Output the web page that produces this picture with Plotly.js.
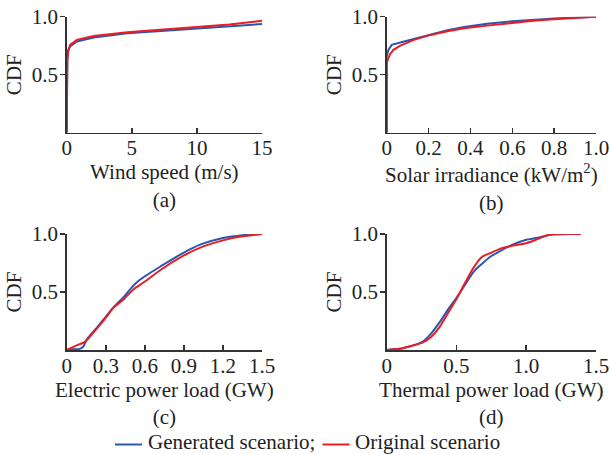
<!DOCTYPE html>
<html>
<head>
<meta charset="utf-8">
<script src="https://cdn.plot.ly/plotly-3.0.1.min.js"></script>
<style>html,body{margin:0;padding:0;background:#fff;}#chart{width:610px;height:454px;}</style>
</head>
<body>
<div id="chart"></div>
<script>
// ---- Data ----
const windGenX  = [0, 0, 0.05, 0.26, 0.78, 2.07, 4.66, 7.25, 10, 12.5, 15];
const windGenY  = [0, 0.68, 0.70, 0.743, 0.786, 0.82, 0.857, 0.877, 0.9, 0.918, 0.937];
const windOrigX = [0, 0, 0.05, 0.12, 0.26, 0.78, 2.07, 4.66, 7.25, 10, 12.5, 15];
const windOrigY = [0, 0.5, 0.62, 0.7, 0.757, 0.8, 0.834, 0.866, 0.889, 0.908, 0.932, 0.965];

const solarGenX  = [0, 0, 0.008, 0.024, 0.065, 0.13, 0.21, 0.29, 0.37, 0.48, 0.6, 0.7, 0.8, 0.9, 1.0];
const solarGenY  = [0, 0.66, 0.714, 0.757, 0.777, 0.809, 0.849, 0.883, 0.911, 0.94, 0.96, 0.974, 0.985, 0.994, 1.0];
const solarOrigX = [0, 0, 0.008, 0.016, 0.032, 0.065, 0.13, 0.21, 0.29, 0.37, 0.48, 0.6, 0.7, 0.8, 0.9, 1.0];
const solarOrigY = [0, 0.6, 0.643, 0.677, 0.714, 0.751, 0.8, 0.843, 0.874, 0.9, 0.923, 0.95, 0.966, 0.978, 0.99, 1.0];

const elecGenX  = [0, 0.05, 0.1, 0.128, 0.154, 0.19, 0.23, 0.295, 0.36, 0.44, 0.5, 0.55, 0.6, 0.72, 0.9, 1.03, 1.2, 1.35, 1.5];
const elecGenY  = [0, 0.006, 0.01, 0.03, 0.09, 0.14, 0.19, 0.28, 0.37, 0.46, 0.54, 0.595, 0.635, 0.72, 0.84, 0.91, 0.965, 0.99, 1.0];
const elecOrigX = [0, 0.077, 0.14, 0.205, 0.295, 0.36, 0.44, 0.51, 0.6, 0.72, 0.9, 1.03, 1.2, 1.35, 1.5];
const elecOrigY = [0, 0.04, 0.07, 0.15, 0.27, 0.365, 0.44, 0.52, 0.59, 0.69, 0.815, 0.885, 0.945, 0.98, 1.0];

const thermGenX  = [0, 0.095, 0.19, 0.25, 0.31, 0.38, 0.44, 0.5, 0.56, 0.62, 0.68, 0.75, 0.83, 0.905, 1.0, 1.07, 1.19, 1.39];
const thermGenY  = [0, 0.01, 0.04, 0.065, 0.13, 0.24, 0.35, 0.45, 0.56, 0.67, 0.74, 0.81, 0.865, 0.91, 0.95, 0.965, 0.995, 1.0];
const thermOrigX = [0, 0.095, 0.19, 0.26, 0.32, 0.38, 0.44, 0.5, 0.56, 0.62, 0.68, 0.75, 0.83, 0.905, 1.0, 1.07, 1.17, 1.39];
const thermOrigY = [0, 0.01, 0.04, 0.065, 0.115, 0.2, 0.32, 0.44, 0.575, 0.705, 0.8, 0.84, 0.88, 0.9, 0.92, 0.95, 0.995, 1.0];

const seriesNames = ["Generated scenario;", "Original scenario"];
const xTitles = ["Wind speed (m/s)", "Solar irradiance (kW/m<sup>2</sup>)", "Electric power load (GW)", "Thermal power load (GW)"];
const panelLabels = ["(a)", "(b)", "(c)", "(d)"];
const xTickVals = [[0, 5, 10, 15], [0, 0.2, 0.4, 0.6, 0.8, 1.0], [0, 0.3, 0.6, 0.9, 1.2, 1.5], [0, 0.5, 1.0, 1.5]];
const xTickText = [["0", "5", "10", "15"], ["0", "0.2", "0.4", "0.6", "0.8", "1.0"], ["0", "0.3", "0.6", "0.9", "1.2", "1.5"], ["0", "0.5", "1.0", "1.5"]];
const xRanges = [[0, 15], [0, 1], [0, 1.5], [0, 1.5]];
const yTickVals = [0.5, 1.0];
const yTickText = ["0.5", "1.0"];

// ---- Build ----
const BLUE = "#2a56b0", RED = "#ec1c24";
const COLORS = [BLUE, RED];
const FONT = "Liberation Serif, Times New Roman, serif";
const FS = 21;
const panels = [
  [windGenX, windGenY, windOrigX, windOrigY, "linear"],
  [solarGenX, solarGenY, solarOrigX, solarOrigY, "linear"],
  [elecGenX, elecGenY, elecOrigX, elecOrigY, "spline"],
  [thermGenX, thermGenY, thermOrigX, thermOrigY, "spline"]
];
const traces = [];
panels.forEach((p, i) => {
  const xa = i === 0 ? "x" : "x" + (i + 1);
  const ya = i === 0 ? "y" : "y" + (i + 1);
  traces.push({x: p[0], y: p[1], xaxis: xa, yaxis: ya, type: "scatter", mode: "lines",
    line: {color: BLUE, width: 2, shape: p[4], smoothing: 0.8}, name: seriesNames[0], showlegend: false});
  traces.push({x: p[2], y: p[3], xaxis: xa, yaxis: ya, type: "scatter", mode: "lines",
    line: {color: RED, width: 2, shape: p[4], smoothing: 0.8}, name: seriesNames[1], showlegend: false});
});

const W = 610, H = 454;
const xDom = [[66.7 / W, 262 / W], [386.7 / W, 596 / W]];
const yDom = [[(H - 132.7) / H, (H - 16.7) / H], [(H - 350) / H, (H - 234) / H]];

// legend drawn as key lines + labels (paper coordinates)
const legLineY = (H - 444.5) / H;
const legTextY = (H - 441.5) / H;
const legKeys = [[115 / W, 142 / W, 147 / W], [322.5 / W, 349.5 / W, 354 / W]];
const shapes = legKeys.map((k, j) => ({type: "line", xref: "paper", yref: "paper",
  x0: k[0], x1: k[1], y0: legLineY, y1: legLineY, line: {color: COLORS[j], width: 2}}));
const annotations = legKeys.map((k, j) => ({xref: "paper", yref: "paper", x: k[2], y: legTextY,
  xanchor: "left", yanchor: "middle", showarrow: false, text: seriesNames[j], borderpad: 0,
  font: {family: FONT, size: FS, color: "#222"}}));

const layout = {
  width: W, height: H,
  margin: {l: 0, r: 0, t: 0, b: 0},
  paper_bgcolor: "#fff", plot_bgcolor: "#fff",
  font: {family: FONT, size: FS, color: "#222"},
  showlegend: false,
  shapes: shapes,
  annotations: annotations
};
for (let i = 0; i < 4; i++) {
  const sx = i === 0 ? "" : String(i + 1);
  const col = i % 2, row = Math.floor(i / 2);
  layout["xaxis" + sx] = {
    domain: xDom[col], anchor: "y" + sx, range: xRanges[i],
    tickmode: "array", tickvals: xTickVals[i], ticktext: xTickText[i],
    ticks: "inside", ticklen: 5, tickwidth: 1.5, tickcolor: "#333", ticklabelstandoff: -4,
    showline: true, linecolor: "#333", linewidth: 1.5, showgrid: false, zeroline: false,
    tickfont: {size: FS}, fixedrange: true,
    title: {text: xTitles[i] + "<br>" + panelLabels[i], font: {size: FS}, standoff: 2}
  };
  layout["yaxis" + sx] = {
    domain: yDom[row], anchor: "x" + sx, range: [0, 1],
    tickmode: "array", tickvals: yTickVals, ticktext: yTickText,
    ticks: "outside", ticklen: 5, tickwidth: 1.5, tickcolor: "#333", ticklabelstandoff: -2,
    showline: true, linecolor: "#333", linewidth: 1.5, showgrid: false, zeroline: false,
    tickfont: {size: FS}, fixedrange: true,
    title: {text: "CDF", font: {size: FS}, standoff: 4}
  };
}

Plotly.newPlot("chart", traces, layout, {displayModeBar: false, staticPlot: true});
</script>
</body>
</html>
